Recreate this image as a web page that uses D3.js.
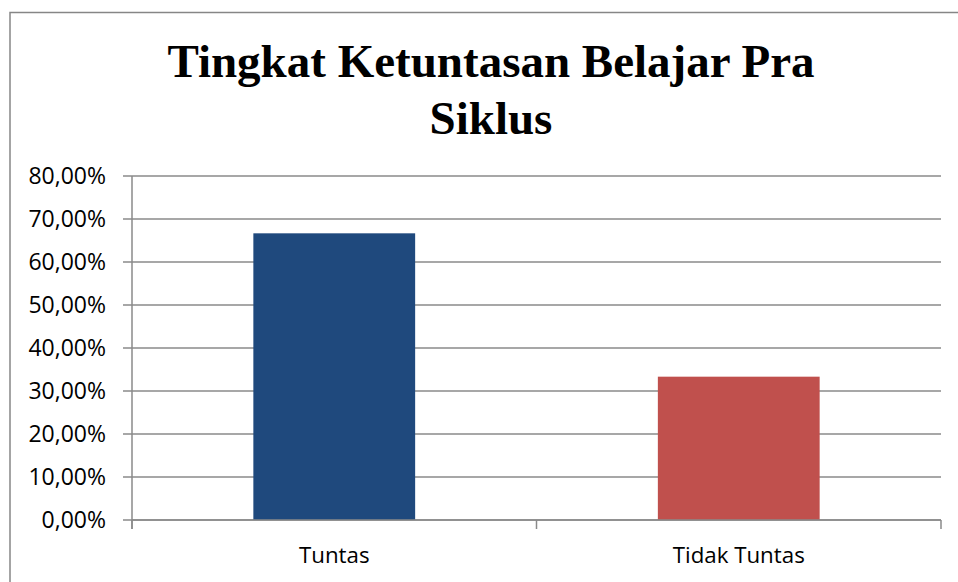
<!DOCTYPE html>
<html><head><meta charset="utf-8">
<script src="https://cdn.jsdelivr.net/npm/d3@7"></script>
<style>html,body{margin:0;padding:0;background:#fff;}svg{display:block;}</style>
</head><body>
<svg id="c" width="958" height="582"></svg>
<script>
const categories = ["Tuntas", "Tidak Tuntas"];
const values = [0.6667, 0.3333];
const colors = ["#1F497D", "#C0504D"];
const yTicks = [0, 0.1, 0.2, 0.3, 0.4, 0.5, 0.6, 0.7, 0.8];
const titleLines = ["Tingkat Ketuntasan Belajar Pra", "Siklus"];

const svg = d3.select("#c");
const m = {left: 132, right: 941, top: 176, bottom: 520};

// outer frame
svg.append("rect").attr("x", 10).attr("y", 12.5).attr("width", 1000).attr("height", 1000)
  .attr("fill", "none").attr("stroke", "#868686").attr("stroke-width", 1.5);

const x = d3.scaleBand().domain(categories).range([m.left, m.right]).paddingInner(0.6).paddingOuter(0.3);
const y = d3.scaleLinear().domain([0, 0.8]).range([m.bottom, m.top]);

// gridlines
svg.append("g").selectAll("line").data(yTicks).join("line")
  .attr("x1", m.left - 9).attr("x2", m.right)
  .attr("y1", d => y(d)).attr("y2", d => y(d))
  .attr("stroke", "#8a8a8a").attr("stroke-width", 1.5);

// bars
svg.append("g").selectAll("rect").data(categories).join("rect")
  .attr("x", d => x(d)).attr("width", x.bandwidth())
  .attr("y", (d, i) => y(values[i])).attr("height", (d, i) => y(0) - y(values[i]))
  .attr("fill", (d, i) => colors[i]);

// y axis line
svg.append("line").attr("x1", m.left).attr("x2", m.left).attr("y1", m.top).attr("y2", m.bottom + 9)
  .attr("stroke", "#8a8a8a").attr("stroke-width", 1.5);
// x axis line
svg.append("line").attr("x1", m.left).attr("x2", m.right).attr("y1", m.bottom).attr("y2", m.bottom)
  .attr("stroke", "#8a8a8a").attr("stroke-width", 1.5);
// category boundary ticks
const bounds = [m.left, m.left + (m.right - m.left) / 2, m.right];
svg.append("g").selectAll("line").data(bounds).join("line")
  .attr("x1", d => d).attr("x2", d => d).attr("y1", m.bottom).attr("y2", m.bottom + 9)
  .attr("stroke", "#8a8a8a").attr("stroke-width", 1.5);

const fmt = d => (d * 100).toFixed(2).replace(".", ",") + "%";
// y tick labels
svg.append("g").selectAll("text").data(yTicks).join("text")
  .attr("x", 106).attr("y", d => y(d) + 8)
  .attr("text-anchor", "end")
  .attr("font-family", "Open Sans, sans-serif").attr("font-size", 23).attr("fill", "#000")
  .text(fmt);

// category labels
svg.append("g").selectAll("text").data(categories).join("text")
  .attr("x", d => x(d) + x.bandwidth() / 2).attr("y", 563)
  .attr("text-anchor", "middle")
  .attr("font-family", "Open Sans, sans-serif").attr("font-size", 22.3).attr("fill", "#000")
  .text(d => d);

// title
svg.append("g").selectAll("text").data(titleLines).join("text")
  .attr("x", 491).attr("y", (d, i) => 77 + i * 57)
  .attr("text-anchor", "middle")
  .attr("font-family", "Liberation Serif, Times New Roman, serif").attr("font-weight", "bold")
  .attr("font-size", 47).attr("fill", "#000")
  .text(d => d);
</script>
</body></html>
